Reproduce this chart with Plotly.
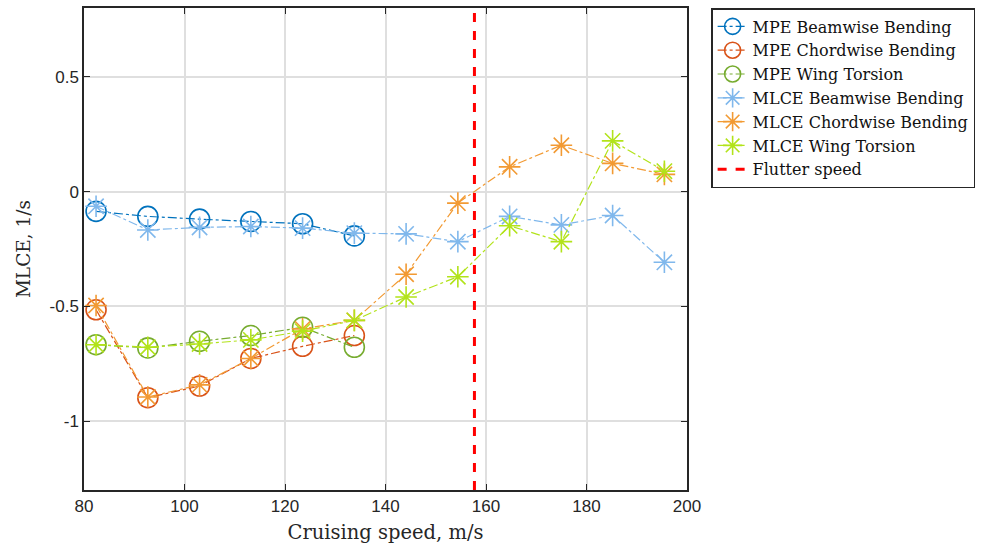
import plotly.graph_objects as go

speed = [82.4, 92.7, 103.0, 113.2, 123.5, 133.8, 144.1, 154.4, 164.7, 175.0, 185.2, 195.5]

mpe_beam = [-0.086, -0.108, -0.120, -0.130, -0.140, -0.193]
mpe_chord = [-0.515, -0.898, -0.847, -0.727, -0.674, -0.627]
mpe_tors = [-0.667, -0.681, -0.652, -0.627, -0.591, -0.678]

mlce_beam = [-0.064, -0.167, -0.156, -0.152, -0.159, -0.181, -0.184, -0.218, -0.108, -0.145, -0.104, -0.308]
mlce_chord = [-0.496, -0.895, -0.842, -0.727, -0.598, -0.561, -0.360, -0.050, 0.108, 0.202, 0.123, 0.075]
mlce_tors = [-0.667, -0.678, -0.664, -0.646, -0.608, -0.561, -0.459, -0.371, -0.149, -0.218, 0.221, 0.089]

flutter_speed = 157.7
y_range = [-1.3, 0.8]

names = ["MPE Beamwise Bending", "MPE Chordwise Bending", "MPE Wing Torsion",
         "MLCE Beamwise Bending", "MLCE Chordwise Bending", "MLCE Wing Torsion"]
colors = ["#0072BD", "#D95319", "#77AC30", "#80B8EC", "#F29A33", "#B2E31A"]

serif = "DejaVu Serif, Liberation Serif, serif"

fig = go.Figure()
mpe = [mpe_beam, mpe_chord, mpe_tors]
mlce = [mlce_beam, mlce_chord, mlce_tors]
for i, ys in enumerate(mpe):
    fig.add_trace(go.Scatter(
        x=speed[:len(ys)], y=ys, name=names[i], mode="lines+markers",
        line=dict(color=colors[i], width=1.2, dash="dashdot"),
        marker=dict(symbol="circle-open", size=20, color=colors[i], line=dict(width=1.6, color=colors[i])),
    ))
for i, ys in enumerate(mlce):
    fig.add_trace(go.Scatter(
        x=speed[:len(ys)], y=ys, name=names[3 + i], mode="lines+markers",
        line=dict(color=colors[3 + i], width=1.2, dash="dashdot"),
        marker=dict(symbol="asterisk-open", size=18, color=colors[3 + i], line=dict(width=1.6, color=colors[3 + i])),
    ))
fig.add_trace(go.Scatter(
    x=[flutter_speed, flutter_speed], y=y_range, name="Flutter speed", mode="lines",
    line=dict(color="#FF0000", width=3, dash="dash"),
))

axis_common = dict(
    showline=True, linecolor="#262626", linewidth=1.5, mirror="ticks",
    ticks="inside", ticklen=6, tickcolor="#262626",
    showgrid=True, gridcolor="#DFDFDF", gridwidth=2, zeroline=False,
    tickfont=dict(family="Liberation Sans, Arial", size=17, color="#262626"),
)

fig.update_layout(
    width=983, height=550,
    margin=dict(l=84, r=296, t=8, b=60, autoexpand=False),
    paper_bgcolor="white", plot_bgcolor="white",
    xaxis=dict(range=[80, 200], tickvals=[80, 100, 120, 140, 160, 180, 200],
               title=dict(text="Cruising speed, m/s", standoff=10,
                          font=dict(family=serif, size=19.5, color="#262626")),
               **axis_common),
    yaxis=dict(range=y_range, tickvals=[-1, -0.5, 0, 0.5], ticktext=["-1", "-0.5", "0", "0.5"],
               title=dict(text="MLCE, 1/s", standoff=14,
                          font=dict(family=serif, size=18.5, color="#262626")),
               **axis_common),
    legend=dict(x=1.04, y=1.0, xanchor="left", yanchor="top",
                bordercolor="#262626", borderwidth=1.5, bgcolor="white",
                font=dict(family=serif, size=16, color="#111111"),
                tracegroupgap=0, itemwidth=30),
    showlegend=True,
)

fig.write_html("out.html")
